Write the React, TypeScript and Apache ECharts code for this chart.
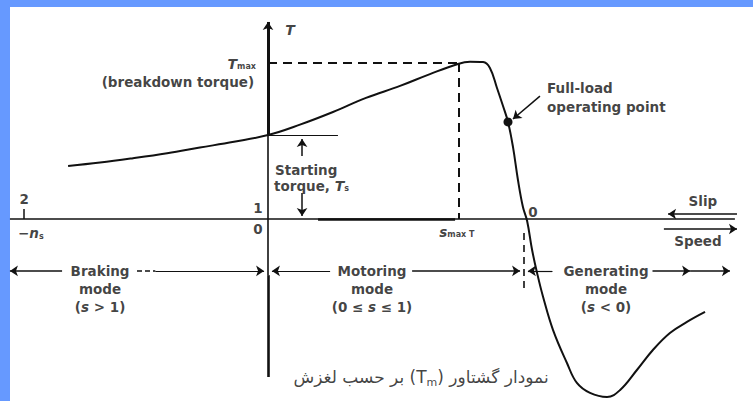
import React, { useEffect, useRef } from 'react';
import * as echarts from 'echarts';

// x = speed ratio n/ns (0 at slip 1, 1 at slip 0); y = torque / Tmax
const X_MIN = -1.0229;
const X_MAX = 1.8511;
const Y_MIN = -1.1667;
const Y_MAX = 1.4038;

const curveSpeed = [
  -0.763, -0.641, -0.515, -0.385, -0.26, -0.13, 0, 0.122, 0.248, 0.374, 0.504, 0.618, 0.725,
  0.771, 0.821, 0.847, 0.874, 0.897, 0.916, 0.935, 0.954, 0.973, 0.989, 1.008, 1.027, 1.05,
  1.088, 1.141, 1.179, 1.229, 1.294, 1.344, 1.408, 1.469, 1.534, 1.599, 1.668,
];
const curveTorque = [
  0.34, 0.362, 0.39, 0.422, 0.458, 0.495, 0.538, 0.605, 0.686, 0.776, 0.853, 0.929, 0.994,
  1.008, 1.006, 0.968, 0.84, 0.724, 0.622, 0.462, 0.25, 0.077, -0.013, -0.199, -0.346, -0.5,
  -0.712, -0.923, -1.051, -1.115, -1.141, -1.096, -0.968, -0.84, -0.731, -0.66, -0.596,
];

const fullLoadPoint = [0.916, 0.622];
const startingTorque = 0.538;
const maxTorque = 1.0;
const speedAtMaxTorque = 0.727;
const modeRowY = -0.333;

// slip tick labels along the speed axis
const slipTickPos = [-0.931, -0.038, 1.011];
const slipTickY = [0.128, 0.071, 0.045];
const slipTickLabels = ['2', '1', '0'];

const modeNames = ['Braking', 'Motoring', 'Generating'];
const modeCenters = [-0.641, 0.397, 1.29];
const modeRanges = ['({i|s} > 1)', '(0 ≤ {i|s} ≤ 1)', '({i|s} < 0)'];

const INK = '#111111';
const FONT = 'DejaVu Sans';
const base = { fontFamily: FONT, fontSize: 13.5, fontWeight: 'bold' as const, color: INK };
const rich = {
  i: { ...base, fontStyle: 'italic' as const },
  s: { ...base, fontSize: 8, verticalAlign: 'bottom' as const, padding: [6, 0, 0, 0] },
  t: { ...base, fontSize: 14, fontStyle: 'italic' as const },
};

function seg(a: number[], b: number[], style: any = {}) {
  return { coords: [a, b], lineStyle: { color: INK, width: 1.5, opacity: 1, ...style } };
}

function label(pos: number[], text: string, align: string, extra: any = {}) {
  return {
    value: pos,
    label: {
      show: true,
      position: [0, 0],
      align,
      verticalAlign: 'middle',
      formatter: text,
      ...base,
      rich,
      ...extra,
    },
  };
}

export default function App() {
  const ref = useRef<HTMLDivElement>(null);
  useEffect(() => {
    const chart = echarts.init(ref.current!, null, { renderer: 'svg' });

    const plainLines = [
      // speed (horizontal) axis
      seg([-0.985, 0], [1.782, 0], { width: 1.5 }),
      seg([0.191, 0], [0.714, 0], { width: 2.6 }),
      seg([-0.931, 0], [-0.931, 0.064], { width: 1.5 }),
      // torque axis lower parts
      seg([0, -1.013], [0, -0.36], { width: 2.6 }),
      seg([0, -0.36], [0, startingTorque], { width: 1.6 }),
      // starting torque level
      seg([0, startingTorque], [0.267, startingTorque], { width: 1.2 }),
      // Tmax dashed guides
      seg([0, maxTorque], [speedAtMaxTorque, maxTorque], { width: 2, type: [9, 6] }),
      seg([speedAtMaxTorque, maxTorque], [speedAtMaxTorque, 0], { width: 2, type: [9, 6] }),
      seg([0.977, -0.09], [0.977, -0.455], { width: 1.6, type: [7, 5] }),
      // mode row plain parts
      seg([-0.5, modeRowY], [-0.43, modeRowY], { width: 1.5, type: [5, 3] }),
      seg([1.02, modeRowY], [1.085, modeRowY], { width: 1.2, type: [5, 3] }),
    ];

    const arrowLines = [
      seg([0, startingTorque], [0, 1.263], { width: 3 }),
      seg([-0.786, modeRowY], [-0.985, modeRowY]),
      seg([-0.43, modeRowY], [-0.015, modeRowY], { width: 1.2 }),
      seg([0.237, modeRowY], [0.015, modeRowY], { width: 1.2 }),
      seg([0.55, modeRowY], [0.962, modeRowY]),
      seg([1.085, modeRowY], [0.992, modeRowY], { width: 1.2 }),
      seg([1.466, modeRowY], [1.611, modeRowY]),
      seg([1.611, modeRowY], [1.763, modeRowY]),
      // starting torque dimension arrows
      seg([0.13, 0.404], [0.13, 0.513], { width: 1.5 }),
      seg([0.13, 0.167], [0.13, 0.019], { width: 1.5 }),
      // full-load pointer
      seg([1.038, 0.788], [0.935, 0.641], { width: 1.5 }),
      // slip / speed direction arrows
      seg([1.79, 0.032], [1.527, 0.032], { width: 1.5 }),
      seg([1.511, -0.064], [1.79, -0.064], { width: 1.5 }),
    ];

    const texts: any[] = [
      label([0.084, 1.212], '{t|T}', 'center', { fontWeight: 'normal' }),
      label([-0.046, 0.994], '{t|T}{s|max}', 'right'),
      label([-0.053, 0.878], '(breakdown torque)', 'right'),
      label([0.027, 0.314], 'Starting', 'left'),
      label([0.023, 0.212], 'torque, {t|T}{s|s}', 'left'),
      label([0.721, -0.083], '{i|s}{s|max T}', 'center'),
      label([1.065, 0.84], 'Full-load', 'left'),
      label([1.065, 0.718], 'operating point', 'left'),
      label([1.66, 0.115], 'Slip', 'center'),
      label([1.641, -0.141], 'Speed', 'center'),
      label([-0.905, -0.09], '−{i|n}{s|s}', 'center'),
    ];
    slipTickLabels.forEach((t, k) => {
      texts.push(label([slipTickPos[k], slipTickY[k]], t, 'center'));
    });
    texts.push(label([-0.038, -0.064], '0', 'center'));
    modeNames.forEach((m, k) => {
      texts.push(label([modeCenters[k], modeRowY], m, 'center', { backgroundColor: '#fff', padding: [0, 4] }));
      texts.push(label([modeCenters[k], -0.449], 'mode', 'center'));
      texts.push(label([modeCenters[k], -0.564], modeRanges[k], 'center'));
    });
    const capBase = { fontFamily: FONT, fontSize: 17, color: '#111', fontWeight: 'normal' as const };
    texts.push({
      value: [0.584, -1.013],
      label: {
        show: true,
        position: [0, 0],
        align: 'center',
        verticalAlign: 'middle',
        formatter: '{a|بر حسب لغزش} {a|(}{a|T}{m|m}{a|)} {a|نمودار گشتاور}',
        ...capBase,
        rich: {
          a: { ...capBase, lineHeight: 22 },
          m: { ...capBase, fontSize: 11, verticalAlign: 'bottom', lineHeight: 22, padding: [9, 0, 0, 0] },
        },
      },
    });

    chart.setOption({
      animation: false,
      backgroundColor: '#6699ff',
      graphic: [
        { type: 'rect', z: -10, shape: { x: 10, y: 7, width: 743, height: 394 }, style: { fill: '#ffffff' } },
      ],
      grid: { left: 0, right: 0, top: 0, bottom: 0, containLabel: false },
      xAxis: { type: 'value', min: X_MIN, max: X_MAX, show: false },
      yAxis: { type: 'value', min: Y_MIN, max: Y_MAX, show: false },
      series: [
        {
          type: 'lines',
          coordinateSystem: 'cartesian2d',
          silent: true,
          symbol: 'none',
          lineStyle: { opacity: 1 },
          data: plainLines,
          z: 3,
        },
        {
          type: 'lines',
          coordinateSystem: 'cartesian2d',
          silent: true,
          symbol: ['none', 'arrow'],
          symbolSize: 8,
          lineStyle: { opacity: 1 },
          data: arrowLines,
          z: 3,
        },
        {
          type: 'line',
          data: curveSpeed.map((x, k) => [x, curveTorque[k]]),
          smooth: 0.4,
          showSymbol: false,
          lineStyle: { color: INK, width: 2 },
          silent: true,
          z: 4,
        },
        {
          type: 'scatter',
          data: [fullLoadPoint],
          symbolSize: 9,
          itemStyle: { color: INK, opacity: 1 },
          silent: true,
          z: 5,
        },
        {
          type: 'scatter',
          data: texts,
          symbolSize: 0,
          silent: true,
          z: 6,
        },
      ],
    });
    return () => chart.dispose();
  }, []);
  return (
    <div
      ref={ref}
      style={{ position: 'fixed', left: 0, top: 0, width: 753, height: 401 }}
    />
  );
}
